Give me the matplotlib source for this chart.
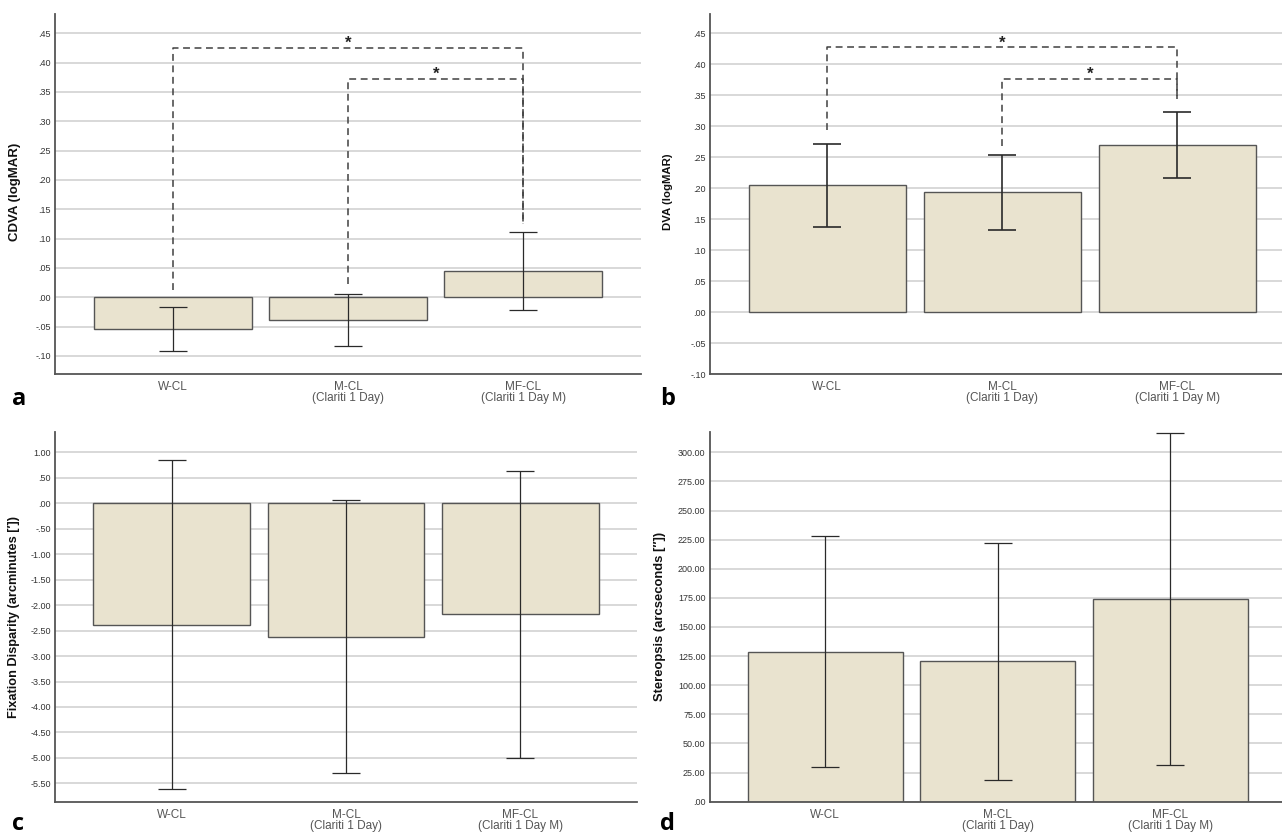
import matplotlib
matplotlib.use('agg')
import matplotlib.pyplot as plt
import numpy as np

plt.rcParams['font.family'] = ['Liberation Sans', 'DejaVu Sans']

# categories
groups = ["W-CL", "M-CL\n(Clariti 1 Day)", "MF-CL\n(Clariti 1 Day M)"]

# means and error bar half widths
cdva_mean = [-0.054, -0.039, 0.045]
cdva_err = [0.038, 0.044, 0.066]
dva_mean = [0.205, 0.193, 0.270]
dva_err = [0.067, 0.060, 0.053]
fd_mean = [-2.385, -2.616, -2.18]
fd_err = [3.23, 2.68, 2.82]
stereo_mean = [128.9, 120.5, 174.0]
stereo_err = [99.5, 101.6, 142.8]

# significance brackets: (from group, to group, bracket height, left leg end, right leg end)
cdva_sig = [(0, 2, 0.425, 0.0125, 0.125), (1, 2, 0.372, 0.0225, 0.125)]
dva_sig = [(0, 2, 0.427, 0.294, 0.344), (1, 2, 0.376, 0.268, 0.344)]

bar_colour = "#e9e3cf"
edge_colour = "#555555"
grid_colour = "#d5d5d5"


def spss_label(v, dec):
    s = f"{v:.{dec}f}"
    if s.startswith("0."):
        s = s[1:]
    elif s.startswith("-0."):
        s = "-" + s[2:]
    if s in ("-.00", "-.0"):
        s = s[1:]
    return s


def draw_panel(ax, means, errs, ylim, yticks, dec, ylabel, label_xy, label_size=8, err_lw=0.9):
    x = np.arange(len(groups))
    ax.bar(x, means, width=0.9, color=bar_colour, edgecolor=edge_colour, linewidth=1.0, zorder=2)
    ax.errorbar(x, means, yerr=errs, fmt='none', ecolor='#2a2a2a', elinewidth=err_lw,
                capsize=10, capthick=err_lw, zorder=3)
    ax.set_xlim(-0.67, 2.67)
    ax.set_ylim(ylim)
    ax.set_yticks(yticks)
    ax.set_yticklabels([spss_label(v, dec) for v in yticks], fontsize=6.5, color='#333333')
    ax.set_xticks(x)
    ax.set_xticklabels(groups, fontsize=8.5, color='#555555', linespacing=0.95)
    ax.tick_params(axis='y', length=0, pad=3)
    ax.tick_params(axis='x', length=0, pad=5)
    ax.yaxis.grid(True, color=grid_colour, linewidth=1.3)
    ax.set_axisbelow(True)
    for s in ['top', 'right']:
        ax.spines[s].set_visible(False)
    for s in ['left', 'bottom']:
        ax.spines[s].set_color('#555555')
        ax.spines[s].set_linewidth(1.3)
    ax.set_ylabel(ylabel, fontsize=label_size, fontweight='bold', color='#111111')
    ax.yaxis.set_label_coords(label_xy[0], label_xy[1])


def draw_sig(ax, sig):
    for i, j, h, yl, yr in sig:
        ax.plot([i, i, j, j], [yl, h, h, yr], color='#404040', linewidth=1.1,
                linestyle=(0, (4.5, 3)), zorder=4)
        ax.text((i + j) / 2, h, "*", fontsize=12, fontweight='bold', ha='center',
                va='baseline', color='#222222')


fig = plt.figure(figsize=(12.82, 8.35), dpi=100)

ax_a = fig.add_axes([55 / 1282, 1 - 374 / 835, 586 / 1282, 360 / 835])
ax_b = fig.add_axes([710 / 1282, 1 - 374 / 835, 584.5 / 1282, 360 / 835])
ax_c = fig.add_axes([55 / 1282, 1 - 801.7 / 835, 582 / 1282, 369.7 / 835])
ax_d = fig.add_axes([709.7 / 1282, 1 - 801.7 / 835, 576 / 1282, 369.7 / 835])

draw_panel(ax_a, cdva_mean, cdva_err, (-0.131, 0.483), np.round(np.arange(-0.10, 0.451, 0.05), 2), 2,
           "CDVA (logMAR)", (-0.058, 0.505), label_size=9.5)
draw_sig(ax_a, cdva_sig)

draw_panel(ax_b, dva_mean, dva_err, (-0.10, 0.481), np.round(np.arange(-0.10, 0.451, 0.05), 2), 2,
           "DVA (logMAR)", (-0.063, 0.506), label_size=8.2, err_lw=1.2)
draw_sig(ax_b, dva_sig)

draw_panel(ax_c, fd_mean, fd_err, (-5.86, 1.40), np.round(np.arange(-5.5, 1.01, 0.5), 2), 2,
           "Fixation Disparity (arcminutes [\u2032])", (-0.060, 0.5), label_size=9.2)

draw_panel(ax_d, stereo_mean, stereo_err, (0, 317.4), np.arange(0, 301, 25), 2,
           "Stereopsis (arcseconds [\u2033])", (-0.076, 0.5), label_size=9.4)

for letter, (px, py) in zip("abcd", [(12, 405), (660, 405), (12, 830), (660, 830)]):
    fig.text(px / 1282, 1 - py / 835, letter, fontsize=17, fontweight='bold',
             family=['Open Sans', 'DejaVu Sans'], ha='left', va='baseline')

fig.savefig("out.png", dpi=100)
